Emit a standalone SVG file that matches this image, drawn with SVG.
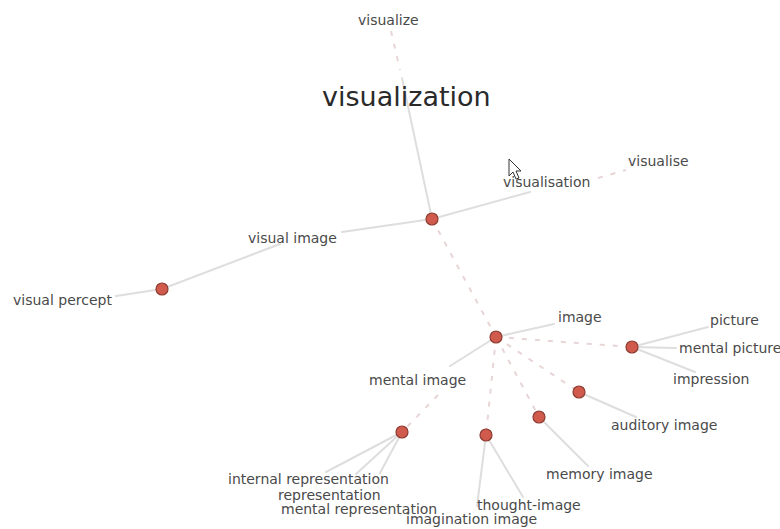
<svg xmlns="http://www.w3.org/2000/svg" width="780" height="529" viewBox="0 0 780 529">
  <style>
    .edge { stroke: #dedede; stroke-width: 2; fill: none; stroke-linecap: round; }
    .dash { stroke: #e8d5d5; stroke-width: 2; fill: none; stroke-dasharray: 5 8; }
    .node { fill: #d05a4c; stroke: #8c3b31; stroke-width: 1.2; }
    .lbl { font-family: "DejaVu Sans", "Liberation Sans", sans-serif; font-size: 14px; fill: #4a4a4a; }
    .title { font-family: "DejaVu Sans", "Liberation Sans", sans-serif; font-size: 27px; fill: #2a2a2a; }
  </style>
  <rect width="780" height="529" fill="#ffffff"/>

  <g id="connectors">
    <!-- visualization branch -->
    <line class="dash" x1="391" y1="31" x2="400" y2="70"/>
    <line class="edge" x1="402" y1="78" x2="432" y2="219"/>
    <line class="edge" x1="432" y1="219" x2="530" y2="192"/>
    <line class="dash" x1="598" y1="178" x2="626" y2="170"/>
    <!-- visual image branch -->
    <line class="edge" x1="432" y1="219" x2="342" y2="232"/>
    <line class="edge" x1="280" y1="244" x2="162" y2="289"/>
    <line class="edge" x1="162" y1="289" x2="116" y2="296"/>
    <!-- image hub -->
    <line class="dash" x1="432" y1="219" x2="496" y2="337"/>
    <line class="edge" x1="496" y1="337" x2="554" y2="324"/>
    <line class="edge" x1="496" y1="337" x2="450" y2="366"/>
    <line class="dash" x1="438" y1="395" x2="402" y2="432"/>
    <line class="dash" x1="496" y1="337" x2="632" y2="347"/>
    <line class="dash" x1="496" y1="337" x2="579" y2="392"/>
    <line class="dash" x1="496" y1="337" x2="539" y2="417"/>
    <line class="dash" x1="496" y1="337" x2="486" y2="435"/>
    <!-- picture node -->
    <line class="edge" x1="632" y1="347" x2="708" y2="327"/>
    <line class="edge" x1="632" y1="347" x2="676" y2="348"/>
    <line class="edge" x1="632" y1="347" x2="695" y2="372"/>
    <!-- leaves -->
    <line class="edge" x1="579" y1="392" x2="636" y2="417"/>
    <line class="edge" x1="539" y1="417" x2="588" y2="466"/>
    <line class="edge" x1="486" y1="435" x2="523" y2="497"/>
    <line class="edge" x1="486" y1="435" x2="477" y2="506"/>
    <line class="edge" x1="402" y1="432" x2="326" y2="472"/>
    <line class="edge" x1="402" y1="432" x2="356" y2="474"/>
    <line class="edge" x1="402" y1="432" x2="380" y2="473"/>
  </g>

  <g id="visualization"><text class="title" x="322" y="106">visualization</text></g>
  <g id="visualize"><text class="lbl" x="358" y="25">visualize</text></g>
  <g id="visualisation"><text class="lbl" x="503" y="187">visualisation</text></g>
  <g id="visualise"><text class="lbl" x="628" y="166">visualise</text></g>
  <g id="visual-image"><text class="lbl" x="248" y="243">visual image</text></g>
  <g id="visual-percept"><text class="lbl" x="13" y="305">visual percept</text></g>
  <g id="image"><text class="lbl" x="558" y="322">image</text></g>
  <g id="mental-image"><text class="lbl" x="369" y="385">mental image</text></g>
  <g id="picture"><text class="lbl" x="710" y="325">picture</text></g>
  <g id="mental-picture"><text class="lbl" x="679" y="353">mental picture</text></g>
  <g id="impression"><text class="lbl" x="673" y="384">impression</text></g>
  <g id="auditory-image"><text class="lbl" x="611" y="430">auditory image</text></g>
  <g id="memory-image"><text class="lbl" x="546" y="479">memory image</text></g>
  <g id="thought-image"><text class="lbl" x="477" y="510">thought-image</text></g>
  <g id="imagination-image"><text class="lbl" x="406" y="524">imagination image</text></g>
  <g id="internal-representation"><text class="lbl" x="228" y="484">internal representation</text></g>
  <g id="representation"><text class="lbl" x="278" y="500">representation</text></g>
  <g id="mental-representation"><text class="lbl" x="281" y="514">mental representation</text></g>

  <g id="n-center"><circle class="node" cx="432" cy="219" r="6"/></g>
  <g id="n-visual-percept"><circle class="node" cx="162" cy="289" r="6"/></g>
  <g id="n-image"><circle class="node" cx="496" cy="337" r="6"/></g>
  <g id="n-picture"><circle class="node" cx="632" cy="347" r="6"/></g>
  <g id="n-auditory"><circle class="node" cx="579" cy="392" r="6"/></g>
  <g id="n-memory"><circle class="node" cx="539" cy="417" r="6"/></g>
  <g id="n-imagination"><circle class="node" cx="486" cy="435" r="6"/></g>
  <g id="n-representation"><circle class="node" cx="402" cy="432" r="6"/></g>

  <!-- mouse pointer -->
  <path d="M509,159 L509,176 L513,172 L516,179 L519,178 L516,171 L521,171 Z" fill="#ffffff" stroke="#333333" stroke-width="1"/>
</svg>
